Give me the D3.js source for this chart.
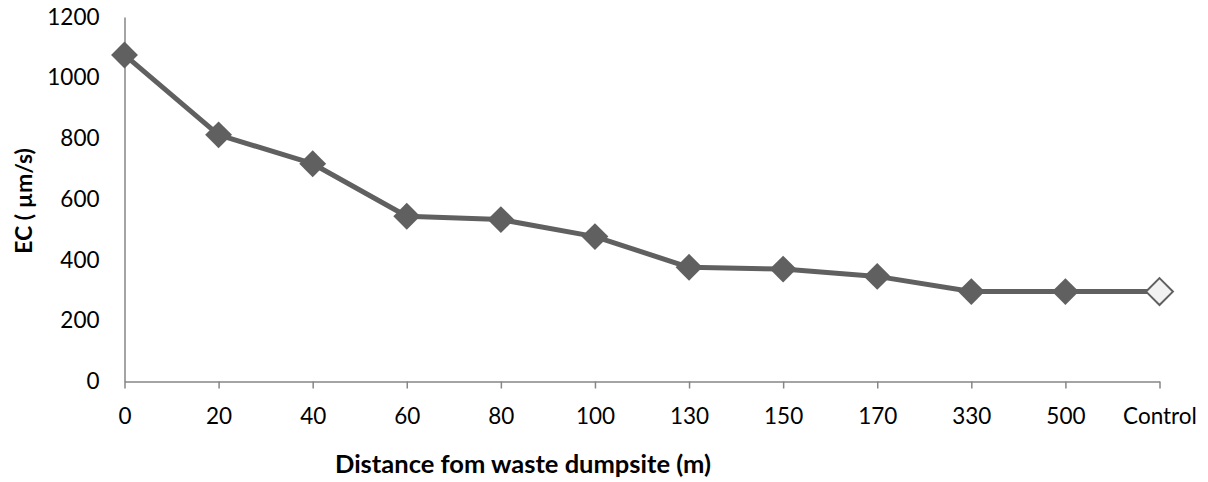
<!DOCTYPE html>
<html><head><meta charset="utf-8">
<script src="https://cdn.jsdelivr.net/npm/d3@7"></script>
<style>body{margin:0;background:#fff}svg{display:block;font-family:Lato,"Open Sans",sans-serif}</style>
</head><body><svg id="c" width="1208" height="482"></svg>
<script>
const categories = ["0","20","40","60","80","100","130","150","170","330","500","Control"];
const ecValues = [1075, 812, 717, 544, 533, 477, 376, 370, 346, 296, 296, 296];
const yTicks = [0,200,400,600,800,1000,1200];
const xTitle = "Distance fom waste dumpsite (m)";
const yTitle = "EC ( µm/s)";

(function(){
const svg = d3.select("#c");
const mLeft = 124.5, mRight = 1159.5, mTop = 17, mBottom = 381.5;
const x = d3.scalePoint().domain(categories).range([mLeft, mRight]);
const y = d3.scaleLinear().domain([0,1200]).range([mBottom, mTop]);
const axisColor = "#868686";

const gx = svg.append("g").attr("transform", `translate(0,${mBottom})`)
  .call(d3.axisBottom(x).tickSize(7).tickPadding(20).tickSizeOuter(0));
gx.select(".domain").attr("stroke", axisColor).attr("stroke-width", 1.5);
gx.selectAll(".tick line").attr("stroke", axisColor).attr("stroke-width", 1.5);
gx.selectAll(".tick text").attr("font-size", 22.5).attr("fill", "#000").attr("font-family","Lato");

const gy = svg.append("g").attr("transform", `translate(${mLeft},0)`)
  .call(d3.axisLeft(y).tickValues(yTicks).tickSize(0).tickPadding(25).tickFormat(d3.format("d")));
gy.select(".domain").attr("stroke", axisColor).attr("stroke-width", 1.5);
gy.selectAll(".tick text").attr("font-size", 22.5).attr("fill", "#000").attr("font-family","Lato");

svg.append("text").attr("x", 523).attr("y", 473).attr("text-anchor","middle")
  .attr("font-size", 25.5).attr("font-weight","bold").attr("font-family","Lato").text(xTitle);
svg.append("text").attr("transform","translate(32,201) rotate(-90)").attr("text-anchor","middle")
  .attr("font-size", 23).attr("font-weight","bold").attr("font-family","Lato").text(yTitle);

const data = categories.map((c,i)=>({c, v: ecValues[i]}));
svg.append("path").datum(data)
  .attr("fill","none").attr("stroke","#606060").attr("stroke-width",5).attr("stroke-linejoin","round")
  .attr("d", d3.line().x(d=>x(d.c)).y(d=>y(d.v)));

const sym = d3.symbol().type(d3.symbolDiamond2).size(460);
svg.selectAll("path.m").data(data).join("path").attr("class","m")
  .attr("transform", d=>`translate(${x(d.c)},${y(d.v)})`)
  .attr("d", sym)
  .attr("fill", d=> d.c==="Control" ? "#f2f2f2" : "#606060")
  .attr("stroke", "#606060").attr("stroke-width", d=> d.c==="Control" ? 2 : 0);
})();
</script></body></html>
